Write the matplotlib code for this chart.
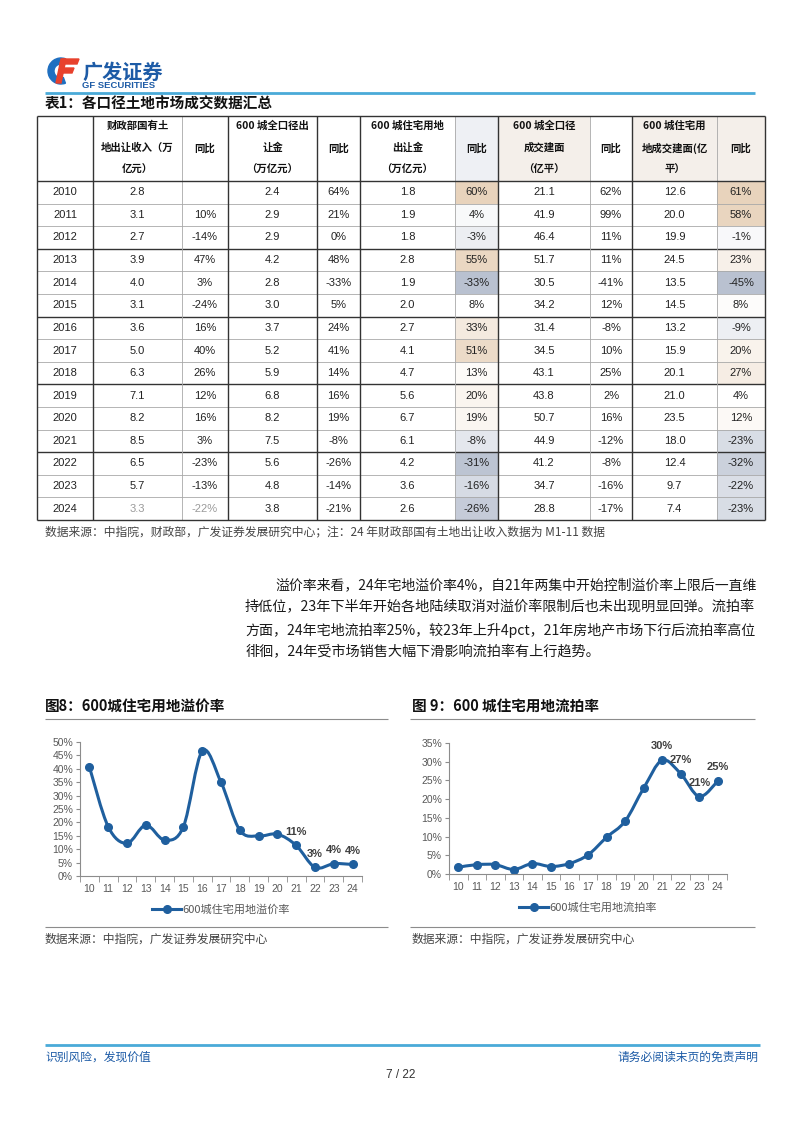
import matplotlib
matplotlib.use("Agg")
import matplotlib.pyplot as plt
import numpy as np
from matplotlib.patches import Rectangle, Wedge, Polygon, PathPatch
from matplotlib.path import Path
from matplotlib.colors import LinearSegmentedColormap, TwoSlopeNorm

plt.rcParams['font.family'] = ['Noto Sans CJK SC', 'DejaVu Sans']

W, H = 802, 1133
BLUE = '#1d5ba6'
LINE_BLUE = '#4aaad8'
SERIES = '#1f5f9e'
GRAY = '#595959'
DARK = '#222222'
NUM = ['Liberation Sans', 'DejaVu Sans']

# ---- table data (表1) ----
years = ['2010', '2011', '2012', '2013', '2014', '2015', '2016', '2017',
         '2018', '2019', '2020', '2021', '2022', '2023', '2024']
mof_income = ['2.8', '3.1', '2.7', '3.9', '4.0', '3.1', '3.6', '5.0',
              '6.3', '7.1', '8.2', '8.5', '6.5', '5.7', '3.3']
mof_yoy = ['', '10%', '-14%', '47%', '3%', '-24%', '16%', '40%',
           '26%', '12%', '16%', '3%', '-23%', '-13%', '-22%']
all_rev = ['2.4', '2.9', '2.9', '4.2', '2.8', '3.0', '3.7', '5.2',
           '5.9', '6.8', '8.2', '7.5', '5.6', '4.8', '3.8']
all_rev_yoy = ['64%', '21%', '0%', '48%', '-33%', '5%', '24%', '41%',
               '14%', '16%', '19%', '-8%', '-26%', '-14%', '-21%']
res_rev = ['1.8', '1.9', '1.8', '2.8', '1.9', '2.0', '2.7', '4.1',
           '4.7', '5.6', '6.7', '6.1', '4.2', '3.6', '2.6']
res_rev_yoy = [60, 4, -3, 55, -33, 8, 33, 51, 13, 20, 19, -8, -31, -16, -26]
all_area = ['21.1', '41.9', '46.4', '51.7', '30.5', '34.2', '31.4', '34.5',
            '43.1', '43.8', '50.7', '44.9', '41.2', '34.7', '28.8']
all_area_yoy = ['62%', '99%', '11%', '11%', '-41%', '12%', '-8%', '10%',
                '25%', '2%', '16%', '-12%', '-8%', '-16%', '-17%']
res_area = ['12.6', '20.0', '19.9', '24.5', '13.5', '14.5', '13.2', '15.9',
            '20.1', '21.0', '23.5', '18.0', '12.4', '9.7', '7.4']
res_area_yoy = [61, 58, -1, 23, -45, 8, -9, 20, 27, 4, 12, -23, -32, -22, -23]

headers = [
    [],
    ['财政部国有土', '地出让收入（万', '亿元）'],
    ['同比'],
    ['600 城全口径出', '让金', '（万亿元）'],
    ['同比'],
    ['600 城住宅用地', '出让金', '（万亿元）'],
    ['同比'],
    ['600 城全口径', '成交建面', '（亿平）'],
    ['同比'],
    ['600 城住宅用', '地成交建面(亿', '平）'],
    ['同比'],
]

# ---- chart data ----
chart_years = ['10', '11', '12', '13', '14', '15', '16', '17',
               '18', '19', '20', '21', '22', '23', '24']
premium_rate = [40.7, 18.4, 12.2, 19.0, 13.4, 18.4, 46.6, 35.0,
                17.1, 14.9, 15.6, 11.4, 3.2, 4.6, 4.3]
premium_labels = ['', '', '', '', '', '', '', '', '', '', '', '11%', '3%', '4%', '4%']
failed_rate = [1.8, 2.5, 2.5, 1.2, 2.8, 2.0, 2.8, 5.1,
               9.8, 14.1, 22.9, 30.4, 26.8, 20.7, 24.8]
failed_labels = ['', '', '', '', '', '', '', '', '', '', '', '30%', '27%', '21%', '25%']

para_lines = [
    '溢价率来看，24年宅地溢价率4%，自21年两集中开始控制溢价率上限后一直维',
    '持低位，23年下半年开始各地陆续取消对溢价率限制后也未出现明显回弹。流拍率',
    '方面，24年宅地流拍率25%，较23年上升4pct，21年房地产市场下行后流拍率高位',
    '徘徊，24年受市场销售大幅下滑影响流拍率有上行趋势。',
]

fig = plt.figure(figsize=(W / 100, H / 100), dpi=100)
page = fig.add_axes([0, 0, 1, 1])
page.set_xlim(0, W)
page.set_ylim(H, 0)
page.axis('off')


def txt(x, y, s, size=9, color=DARK, ha='left', va='center', **kw):
    return page.text(x, y, s, fontsize=size, color=color, ha=ha, va=va, **kw)


def hline(x0, x1, y, color='#888888', lw=0.8):
    page.plot([x0, x1], [y, y], color=color, lw=lw, solid_capstyle='butt')


def vline(x, y0, y1, color='#888888', lw=0.8):
    page.plot([x, x], [y0, y1], color=color, lw=lw, solid_capstyle='butt')


# ---- header / logo ----
page.add_patch(Wedge((61, 71), 13, 70, 290, width=6, color='#1f6fc0'))
page.add_patch(Polygon([(62, 59), (79, 59), (77, 64), (60, 64)], color='#e8412c'))
page.add_patch(Polygon([(61, 68), (74, 68), (72, 73), (59, 73)], color='#e8412c'))
page.add_patch(Polygon([(61, 59), (66, 59), (61, 83), (56, 83)], color='#e8412c'))
txt(82, 72, '广发证券', size=14.5, color=BLUE, weight='bold')
txt(82, 86, 'GF SECURITIES', size=6.8, color=BLUE, weight='bold', family=NUM)
hline(45, 755, 93, color=LINE_BLUE, lw=2)

txt(45, 104, '表1：各口径土地市场成交数据汇总', size=10.5, color='#111111', weight='bold')

# ---- table ----
col_x = [37, 93, 182, 228, 317, 360, 455, 498, 590, 632, 717, 765]
top, head_bot, bot = 116, 181, 520
row_h = (bot - head_bot) / len(years)

head_fill = {6: '#eef0f4', 7: '#f4efea', 9: '#f4efea', 10: '#f4efea'}
for c, fc in head_fill.items():
    page.add_patch(Rectangle((col_x[c], top), col_x[c + 1] - col_x[c],
                             head_bot - top, color=fc, lw=0))

heat = LinearSegmentedColormap.from_list('heat', ['#b9c1d0', '#ffffff', '#e8d3bc'])
for c, vals in ((6, res_rev_yoy), (10, res_area_yoy)):
    norm = TwoSlopeNorm(vmin=min(vals), vcenter=float(np.median(vals)), vmax=max(vals))
    for r, v in enumerate(vals):
        page.add_patch(Rectangle((col_x[c], head_bot + r * row_h),
                                 col_x[c + 1] - col_x[c], row_h,
                                 color=heat(norm(v)), lw=0))

for c, lines in enumerate(headers):
    cx = (col_x[c] + col_x[c + 1]) / 2
    if len(lines) == 1:
        txt(cx, (top + head_bot) / 2, lines[0], size=7.5, color='#111111',
            ha='center', weight='bold')
    else:
        for k, s in enumerate(lines):
            txt(cx, 126 + k * 22, s, size=7.5, color='#111111', ha='center', weight='bold')

columns = [years, mof_income, mof_yoy, all_rev, all_rev_yoy, res_rev,
           [f'{v}%' for v in res_rev_yoy], all_area, all_area_yoy, res_area,
           [f'{v}%' for v in res_area_yoy]]
for c, vals in enumerate(columns):
    cx = (col_x[c] + col_x[c + 1]) / 2
    for r, s in enumerate(vals):
        color = '#9a9a9a' if (r == len(years) - 1 and c in (1, 2)) else DARK
        txt(cx, head_bot + (r + 0.5) * row_h, s, size=8, color=color,
            ha='center', family=NUM)

for r in range(1, len(years)):
    y = head_bot + r * row_h
    if r % 3 == 0:
        hline(col_x[0], col_x[-1], y, color='#333333', lw=1.0)
    else:
        hline(col_x[0], col_x[-1], y, color='#a8a8a8', lw=0.6)
for c, x in enumerate(col_x):
    light = c in (2, 6, 8, 10)
    vline(x, top, bot, color='#a8a8a8' if light else '#333333', lw=0.6 if light else 1.0)
hline(col_x[0], col_x[-1], top, color='#333333', lw=1.0)
hline(col_x[0], col_x[-1], head_bot, color='#333333', lw=1.0)
hline(col_x[0], col_x[-1], bot, color='#333333', lw=1.0)

txt(45, 532, '数据来源：中指院，财政部，广发证券发展研究中心；注：24 年财政部国有土地出让收入数据为 M1-11 数据',
    size=8.5, color='#444444')

# ---- paragraph (justified by fitting each line to the column width) ----
renderer = fig.canvas.get_renderer()
right_edge = 758
for k, s in enumerate(para_lines):
    x0 = 275 if k == 0 else 245
    t = txt(x0, 585 + k * 22.5, s, size=10.5, color='#1a1a1a')
    if k < len(para_lines) - 1:
        width = t.get_window_extent(renderer).width
        t.set_fontsize(10.5 * (right_edge - x0) / width)
    else:
        t.set_fontsize(10.2)


# ---- charts ----
def smooth_path(x, y):
    pts = np.column_stack([x, y]).astype(float)
    n = len(pts)
    verts, codes = [pts[0]], [Path.MOVETO]
    for i in range(n - 1):
        p0, p1 = pts[max(i - 1, 0)], pts[i]
        p2, p3 = pts[i + 1], pts[min(i + 2, n - 1)]
        verts += [p1 + (p2 - p0) / 6, p2 - (p3 - p1) / 6, p2]
        codes += [Path.CURVE4] * 3
    return Path(verts, codes)


def draw_chart(x0, x1, y_zero, y_top, cats, values, labels, ymax, legend):
    ax = fig.add_axes([x0 / W, (H - y_zero) / H, (x1 - x0) / W, (y_zero - y_top) / H])
    ax.patch.set_alpha(0)
    idx = np.arange(len(values))
    ax.add_patch(PathPatch(smooth_path(idx, values), fill=False, ec=SERIES,
                           lw=2.2, capstyle='round', joinstyle='round'))
    ax.plot(idx, values, 'o', color=SERIES, ms=5.5)
    ax.plot([], [], '-o', color=SERIES, lw=2.2, ms=5.5, label=legend)
    for i, lab in enumerate(labels):
        if lab:
            ax.annotate(lab, (idx[i], values[i]), xytext=(0, 10),
                        textcoords='offset points', ha='center', va='center',
                        fontsize=8, weight='bold', color='#404040', family=NUM)
    ax.set_xlim(-0.5, len(values) - 0.5)
    ax.set_ylim(0, ymax)
    ticks = np.arange(0, ymax + 0.1, 5)
    ax.set_yticks(ticks)
    ax.set_yticklabels([f'{int(t)}%' for t in ticks], family=NUM, fontsize=7.5, color=GRAY)
    ax.set_xticks(idx)
    ax.set_xticklabels(cats, family=NUM, fontsize=7.5, color=GRAY)
    ax.set_xticks(np.arange(-0.5, len(values)), minor=True)
    ax.tick_params(axis='x', which='major', length=0, pad=6)
    ax.tick_params(axis='x', which='minor', length=4, color='#8c8c8c')
    ax.tick_params(axis='y', length=3, color='#8c8c8c', pad=2)
    for side in ('top', 'right'):
        ax.spines[side].set_visible(False)
    for side in ('left', 'bottom'):
        ax.spines[side].set_color('#8c8c8c')
        ax.spines[side].set_linewidth(0.8)
    leg = ax.legend(loc='center', bbox_to_anchor=(0.5, -34 / (y_zero - y_top)),
                    frameon=False, fontsize=8, handlelength=2.6, handletextpad=0.1)
    for t in leg.get_texts():
        t.set_color(GRAY)
    return ax


txt(45, 706, '图8：600城住宅用地溢价率', size=10.5, color='#111111', weight='bold')
txt(412, 706, '图 9：600 城住宅用地流拍率', size=10.5, color='#111111', weight='bold')
hline(45, 388, 719, color='#8c8c8c', lw=0.8)
hline(410, 755, 719, color='#8c8c8c', lw=0.8)
hline(45, 388, 927, color='#8c8c8c', lw=0.8)
hline(410, 755, 927, color='#8c8c8c', lw=0.8)
txt(45, 939, '数据来源：中指院，广发证券发展研究中心', size=8.5, color='#444444')
txt(412, 939, '数据来源：中指院，广发证券发展研究中心', size=8.5, color='#444444')

draw_chart(80, 362, 876, 742, chart_years, premium_rate, premium_labels, 50, '600城住宅用地溢价率')
draw_chart(449, 727, 874, 743, chart_years, failed_rate, failed_labels, 35, '600城住宅用地流拍率')

# ---- footer ----
hline(45, 760, 1045, color=LINE_BLUE, lw=2)
txt(45, 1057, '识别风险，发现价值', size=8.5, color=BLUE)
txt(758, 1057, '请务必阅读末页的免责声明', size=8.5, color=BLUE, ha='right')
txt(401, 1075, '7 / 22', size=8.5, color='#333333', ha='center', family=NUM)

fig.savefig('out.png', dpi=100)
